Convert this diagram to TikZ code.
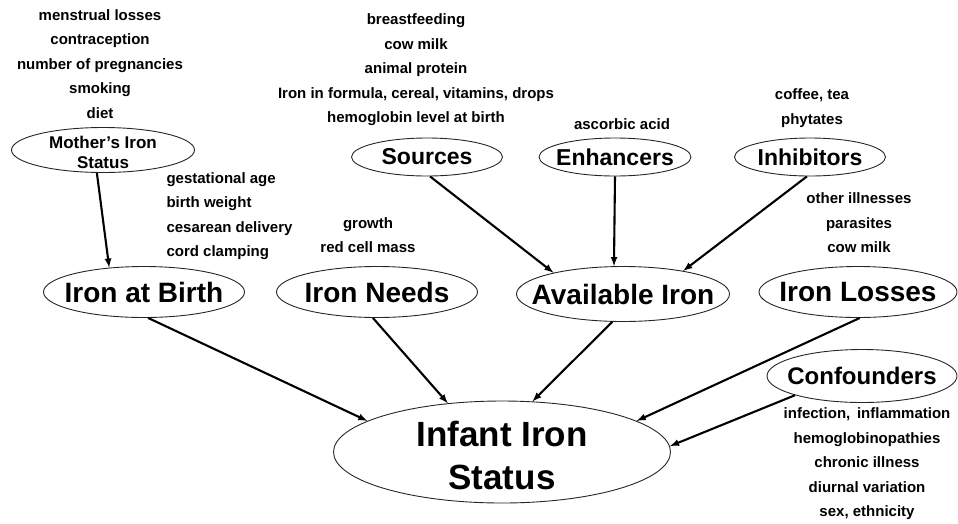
\documentclass[tikz,border=0pt]{standalone}
\usepackage{fontspec}
\setmainfont{Liberation Sans}
\usetikzlibrary{shapes.geometric}

\tikzset{
  oval/.style={draw=black!85, line width=0.9pt, ellipse, inner sep=0pt},
  small/.style={font=\bfseries\fontsize{15}{24.5}\selectfont, align=center},
  big/.style={font=\bfseries\fontsize{28}{32}\selectfont},
  mid/.style={font=\bfseries\fontsize{23}{26}\selectfont},
  arr/.style={-latex, black, line width=2.1pt}
}

\begin{document}
\begin{tikzpicture}[x=1pt,y=-1pt]
\useasboundingbox (0,0) rectangle (958,523);

% ovals
\node[oval, minimum width=183pt, minimum height=45pt,
  label={[font=\bfseries\fontsize{17}{20}\selectfont, align=center, yshift=-2pt]center:Mother's Iron\\Status}] (mother) at (103,150) {};
\node[oval, minimum width=151pt, minimum height=38pt, label={[mid]center:Sources}] (src) at (427,157) {};
\node[oval, minimum width=152pt, minimum height=38pt, label={[mid]center:Enhancers}] (enh) at (615,157) {};
\node[oval, minimum width=151pt, minimum height=38pt, label={[mid]center:Inhibitors}] (inh) at (810,157) {};

\node[oval, minimum width=201pt, minimum height=51pt, label={[big]center:Iron at Birth}] (birth) at (144,292) {};
\node[oval, minimum width=201pt, minimum height=51pt, label={[big]center:Iron Needs}] (needs) at (377,292) {};
\node[oval, minimum width=213pt, minimum height=55pt, label={[big]center:Available Iron}] (avail) at (623,294) {};
\node[oval, minimum width=198pt, minimum height=51pt, label={[big]center:Iron Losses}] (losses) at (858,292) {};
\node[oval, minimum width=190pt, minimum height=53pt,
  label={[font=\bfseries\fontsize{24}{28}\selectfont]center:Confounders}] (conf) at (862,376) {};

\node[oval, minimum width=337pt, minimum height=102pt,
  label={[font=\bfseries\fontsize{35}{43}\selectfont, align=center, yshift=-3pt]center:Infant Iron\\Status}] (infant) at (502,452) {};

% lists
\node[small] (mlist) at (100,64) {menstrual losses\\contraception\\number of pregnancies\\smoking\\diet};
\node[small, align=left, anchor=west] (blist) at (163,216) {gestational age\\birth weight\\cesarean delivery\\cord clamping};
\node[small] (nlist) at (368,235) {growth\\red cell mass};
\node[small] (slist) at (416,70) {breastfeeding\\cow milk\\animal protein\\Iron in formula, cereal, vitamins, drops\\hemoglobin level at birth};
\node[small] (elist) at (622,124) {ascorbic acid};
\node[small] (ilist) at (812,108) {coffee, tea\\phytates};
\node[small] (llist) at (859,223) {other illnesses\\parasites\\cow milk};
\node[small] (clist) at (867,464) {infection,\, inflammation\\hemoglobinopathies\\chronic illness\\diurnal variation\\sex, ethnicity};

% arrows
\draw[arr] (mother.255) -- (birth.145);
\draw[arr] (src.279) -- (avail.163);
\draw[arr] (enh.south) -- (avail.108);
\draw[arr] (inh.261) -- (avail.21);
\draw[arr] (birth.279) -- (infant.167);
\draw[arr] (needs.261) -- (infant.138);
\draw[arr] (avail.249) -- (infant.59);
\draw[arr] (losses.274) -- (infant.13);
\draw[arr] (conf.196) -- (infant.2);

\end{tikzpicture}
\end{document}
